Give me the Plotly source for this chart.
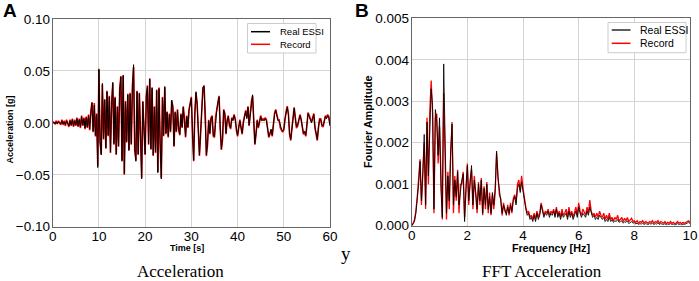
import plotly.graph_objects as go

# ---------------- Panel A: acceleration time histories (g), sampled every 0.25 s ----------------
dt = 0.25
accel_real_essi = [
    0.000, 0.001, -0.001, 0.001,   -0.001, 0.001, 0.000, -0.001,
    0.002, -0.001, 0.001, -0.002,  0.002, -0.001, -0.003, 0.002,
    -0.002, 0.003, -0.003, 0.002,  -0.002, 0.004, -0.003, 0.003,
    -0.004, 0.006, -0.002, 0.004,  -0.005, 0.005, -0.004, 0.007,
    -0.006, 0.010, 0.019, -0.008,  0.017, -0.012, 0.008, -0.043,
    0.052, -0.018, -0.031, 0.038,  -0.015, 0.022, -0.024, 0.030,
    -0.012, 0.025, -0.028, 0.018,  0.039, -0.020, 0.024, -0.030,
    0.015, -0.022, 0.032, 0.044,   -0.037, 0.046, -0.049, 0.020,
    -0.018, 0.027, -0.026, 0.028,  -0.020, 0.034, 0.056, -0.025,
    -0.037, 0.030, -0.030, 0.028,  -0.015, -0.054, 0.020, -0.012,
    -0.030, 0.025, 0.035, -0.020,  0.042, -0.025, 0.034, -0.031,
    0.015, -0.028, 0.031, -0.048,  0.033, -0.020, -0.054, 0.024,
    -0.012, 0.035, -0.010, 0.010,  -0.013, 0.008, -0.008, 0.022,
    0.015, -0.022, 0.010, -0.008,  0.012, -0.006, -0.011, 0.008,
    -0.004, 0.015, 0.004, -0.013,  0.006, -0.004, 0.012, 0.018,
    0.024, -0.010, -0.036, 0.008,  0.030, 0.018, -0.010, -0.031,
    -0.010, 0.015, 0.033, 0.036,   0.010, -0.031, -0.020, 0.002,
    -0.010, 0.004, 0.006, -0.012,  -0.013, 0.005, 0.012, 0.020,
    0.025, -0.005, -0.025, -0.015, 0.012, 0.008, -0.010, 0.002,
    0.006, -0.002, -0.005, 0.004,  0.002, 0.007, 0.003, -0.006,
    -0.012, -0.004, 0.002, -0.004, -0.010, 0.000, 0.008, 0.011,
    0.004, 0.015, -0.002, 0.010,   0.020, 0.027, 0.002, -0.020,
    -0.010, 0.002, -0.004, 0.002,  0.006, 0.002, 0.003, 0.002,
    0.004, 0.002, -0.004, -0.013,  -0.010, -0.006, -0.012, 0.000,
    0.008, 0.012, 0.006, 0.002,    0.002, -0.004, -0.006, -0.008,
    -0.006, 0.004, 0.010, 0.015,   0.008, -0.010, -0.016, -0.005,
    0.006, 0.014, 0.004, -0.004,   -0.002, 0.004, 0.007, 0.003,
    -0.004, -0.010, -0.008, -0.012, -0.002, 0.009, 0.006, 0.002,
    0.000, 0.004, 0.008, -0.004,   -0.012, -0.016, -0.004, 0.003,
    0.003, -0.002, -0.003, 0.002,  0.006, 0.004, 0.007, 0.005,
    -0.003,
]
accel_record = [
    0.001, 0.000, -0.001, 0.002,   -0.001, 0.002, -0.001, -0.002,
    0.003, -0.002, 0.002, -0.003,  0.003, -0.002, -0.004, 0.003,
    -0.003, 0.004, -0.004, 0.003,  -0.003, 0.005, -0.004, 0.004,
    -0.005, 0.007, -0.003, 0.005,  -0.006, 0.006, -0.005, 0.008,
    -0.007, 0.011, 0.020, -0.009,  0.019, -0.013, 0.009, -0.041,
    0.051, -0.019, -0.030, 0.037,  -0.016, 0.023, -0.025, 0.031,
    -0.013, 0.026, -0.029, 0.019,  0.038, -0.021, 0.025, -0.031,
    0.016, -0.023, 0.033, 0.045,   -0.036, 0.045, -0.050, 0.021,
    -0.019, 0.028, -0.027, 0.029,  -0.021, 0.035, 0.054, -0.026,
    -0.036, 0.031, -0.031, 0.029,  -0.016, -0.053, 0.021, -0.013,
    -0.031, 0.026, 0.036, -0.021,  0.043, -0.026, 0.033, -0.032,
    0.016, -0.029, 0.032, -0.047,  0.034, -0.021, -0.053, 0.025,
    -0.013, 0.034, -0.011, 0.011,  -0.014, 0.009, -0.009, 0.021,
    0.016, -0.023, 0.011, -0.009,  0.013, -0.007, -0.012, 0.009,
    -0.005, 0.016, 0.005, -0.014,  0.007, -0.005, 0.013, 0.019,
    0.025, -0.011, -0.037, 0.009,  0.029, 0.019, -0.011, -0.032,
    -0.011, 0.016, 0.034, 0.035,   0.011, -0.032, -0.021, 0.003,
    -0.011, 0.005, 0.007, -0.013,  -0.014, 0.006, 0.013, 0.021,
    0.026, -0.006, -0.026, -0.016, 0.013, 0.009, -0.011, 0.003,
    0.007, -0.003, -0.006, 0.005,  0.003, 0.008, 0.004, -0.007,
    -0.013, -0.005, 0.003, -0.005, -0.011, 0.001, 0.009, 0.012,
    0.005, 0.016, -0.003, 0.011,   0.021, 0.026, 0.003, -0.021,
    -0.011, 0.003, -0.005, 0.003,  0.007, 0.003, 0.004, 0.003,
    0.005, 0.003, -0.005, -0.014,  -0.011, -0.007, -0.013, 0.001,
    0.009, 0.013, 0.007, 0.003,    0.003, -0.005, -0.007, -0.009,
    -0.007, 0.005, 0.011, 0.016,   0.009, -0.011, -0.017, -0.006,
    0.007, 0.015, 0.005, -0.005,   -0.003, 0.005, 0.008, 0.004,
    -0.005, -0.011, -0.009, -0.013, -0.003, 0.010, 0.007, 0.003,
    0.001, 0.005, 0.009, -0.005,   -0.013, -0.017, -0.005, 0.004,
    0.004, -0.003, -0.004, 0.003,  0.007, 0.005, 0.008, 0.006,
    -0.002,
]
time_s = [round(i * dt, 2) for i in range(len(accel_real_essi))]

# ---------------- Panel B: Fourier amplitude (x1e-3), every 0.05 Hz ----------------
df = 0.05
fft_real_essi_milli = [
    0.0, 0.05, 0.1, 0.3, 0.6, 1.0, 1.55, 0.6, 1.3, 2.2, 0.5, 2.5, 1.2, 2.2, 3.3, 2.9, 0.4, 2.8, 2.5, 1.7,
    2.6, 0.9, 0.2, 3.9, 1.7, 0.3, 1.2, 0.6, 1.8, 2.45, 0.5, 1.1, 0.7, 1.3, 0.5, 0.9, 1.1, 1.25, 0.1, 0.9,
    1.45, 0.6, 1.0, 1.45, 0.5, 1.1, 0.8, 0.4, 1.0, 0.6, 1.1, 0.3, 0.9, 0.5, 1.0, 0.4, 0.7, 0.3, 0.8, 0.5,
    0.9, 1.8, 1.15, 0.8, 0.6, 0.3, 0.5, 0.4, 0.25, 0.45, 0.3, 0.5, 0.35, 0.6, 0.7, 0.5, 0.9, 1.0, 0.8, 1.05,
    0.8, 0.6, 0.4, 0.25, 0.3, 0.15, 0.2, 0.1, 0.25, 0.1, 0.3, 0.15, 0.25, 0.5, 0.3, 0.2, 0.3, 0.25, 0.35, 0.2,
    0.3, 0.25, 0.35, 0.2, 0.4, 0.2, 0.3, 0.15, 0.3, 0.2, 0.25, 0.3, 0.15, 0.35, 0.2, 0.3, 0.15, 0.25, 0.35, 0.2,
    0.45, 0.3, 0.2, 0.3, 0.25, 0.2, 0.35, 0.25, 0.45, 0.3, 0.2, 0.25, 0.15, 0.2, 0.15, 0.25, 0.2, 0.15, 0.2, 0.1,
    0.15, 0.1, 0.2, 0.1, 0.15, 0.08, 0.12, 0.1, 0.15, 0.08, 0.1, 0.12, 0.06, 0.1, 0.08, 0.12, 0.05, 0.08, 0.1, 0.06,
    0.08, 0.04, 0.06, 0.03, 0.05, 0.04, 0.06, 0.03, 0.05, 0.04, 0.03, 0.05, 0.04, 0.06, 0.03, 0.05, 0.04, 0.07, 0.03, 0.05,
    0.04, 0.03, 0.05, 0.02, 0.04, 0.03, 0.05, 0.03, 0.04, 0.02, 0.03, 0.05, 0.03, 0.04, 0.02, 0.04, 0.03, 0.05, 0.06, 0.08,
    0.05,
]
fft_record_milli = [
    0.0, 0.05, 0.15, 0.35, 0.7, 1.1, 1.6, 0.5, 1.4, 2.0, 0.4, 2.6, 1.0, 2.75, 3.5, 2.7, 0.3, 2.6, 2.7, 1.5,
    2.4, 1.0, 0.15, 3.2, 1.8, 0.15, 1.3, 0.4, 1.7, 2.5, 0.3, 1.2, 0.6, 1.35, 0.3, 1.0, 1.0, 1.3, 0.2, 0.8,
    1.5, 0.5, 1.1, 1.35, 0.4, 1.2, 0.7, 0.3, 1.05, 0.5, 1.15, 0.25, 0.95, 0.4, 1.05, 0.3, 0.8, 0.25, 0.75, 0.4,
    0.8, 1.75, 1.2, 0.75, 0.65, 0.25, 0.55, 0.35, 0.3, 0.5, 0.25, 0.55, 0.3, 0.65, 0.75, 0.55, 1.0, 1.1, 0.85, 1.2,
    0.9, 0.65, 0.45, 0.3, 0.35, 0.2, 0.25, 0.15, 0.3, 0.15, 0.35, 0.2, 0.3, 0.55, 0.35, 0.25, 0.35, 0.3, 0.4, 0.25,
    0.35, 0.3, 0.4, 0.25, 0.45, 0.25, 0.35, 0.2, 0.4, 0.25, 0.3, 0.4, 0.2, 0.45, 0.25, 0.35, 0.2, 0.3, 0.45, 0.25,
    0.55, 0.35, 0.25, 0.4, 0.3, 0.25, 0.45, 0.3, 0.62, 0.35, 0.25, 0.3, 0.2, 0.3, 0.2, 0.35, 0.25, 0.2, 0.3, 0.15,
    0.25, 0.15, 0.3, 0.15, 0.2, 0.12, 0.2, 0.15, 0.25, 0.12, 0.15, 0.2, 0.1, 0.18, 0.12, 0.2, 0.1, 0.15, 0.18, 0.1,
    0.12, 0.08, 0.12, 0.06, 0.1, 0.08, 0.12, 0.06, 0.1, 0.08, 0.06, 0.1, 0.08, 0.12, 0.06, 0.1, 0.08, 0.12, 0.06, 0.1,
    0.08, 0.06, 0.1, 0.05, 0.08, 0.06, 0.1, 0.06, 0.08, 0.05, 0.06, 0.1, 0.06, 0.08, 0.05, 0.08, 0.06, 0.09, 0.1, 0.12,
    0.08,
]
freq_hz = [round(i * df, 2) for i in range(len(fft_real_essi_milli))]
fft_real_essi = [v / 1000 for v in fft_real_essi_milli]
fft_record = [v / 1000 for v in fft_record_milli]

acc_ticks = [-0.10, -0.05, 0.00, 0.05, 0.10]
time_ticks = [0, 10, 20, 30, 40, 50, 60]
amp_ticks = [0.000, 0.001, 0.002, 0.003, 0.004, 0.005]
freq_ticks = [0, 2, 4, 6, 8, 10]
series_names = ["Real ESSI", "Record"]

W, H = 699, 281
def px(x): return x / W
def py(y): return 1 - y / H

BLACK = "#000000"
BLACK_B = "rgba(0,0,0,0.85)"
RED = "#ff0000"

fig = go.Figure()

# Panel A (red drawn beneath black)
fig.add_trace(go.Scatter(x=time_s, y=accel_record, mode="lines", name=series_names[1],
                         line=dict(color=RED, width=1.6), showlegend=False))
fig.add_trace(go.Scatter(x=time_s, y=accel_real_essi, mode="lines", name=series_names[0],
                         line=dict(color=BLACK, width=1), showlegend=False))
# Panel B (red beneath, black on top)
fig.add_trace(go.Scatter(x=freq_hz, y=fft_record, mode="lines", name=series_names[1],
                         line=dict(color=RED, width=1.3), xaxis="x2", yaxis="y2", showlegend=False))
fig.add_trace(go.Scatter(x=freq_hz, y=fft_real_essi, mode="lines", name=series_names[0],
                         line=dict(color=BLACK_B, width=1), xaxis="x2", yaxis="y2", showlegend=False))

tickfont = dict(family="Liberation Sans", size=13.5, color="#000")
axis_common = dict(showgrid=True, gridcolor="#d4d4d4", gridwidth=1, zeroline=False,
                   showline=True, linecolor="#666", linewidth=1, mirror=True,
                   ticks="", tickfont=tickfont, automargin=False)

fig.update_layout(
    width=W, height=H,
    margin=dict(l=0, r=0, t=0, b=0),
    paper_bgcolor="white", plot_bgcolor="white",
    showlegend=False,
    xaxis=dict(domain=[px(52.7), px(330)], range=[0, 60], tickvals=time_ticks,
               anchor="y", ticklabelstandoff=-3, **axis_common),
    yaxis=dict(domain=[py(226.7), py(19)], range=[-0.1, 0.1], tickvals=acc_ticks,
               tickformat=".2f", anchor="x", ticklabelstandoff=-1, **axis_common),
    xaxis2=dict(domain=[px(411.7), px(690)], range=[0, 10], tickvals=freq_ticks,
                anchor="y2", ticklabelstandoff=-3, **axis_common),
    yaxis2=dict(domain=[py(225.7), py(18.3)], range=[0, 0.005], tickvals=amp_ticks,
                tickformat=".3f", anchor="x2", ticklabelstandoff=-1, **axis_common),
)

# Hand-drawn legends (matplotlib style boxes)
shapes = []
ann = []
legends = [
    dict(box=(247.5, 316, 23.5, 53), line=(251, 270), rows=(31.7, 44.3), tx=277.5, fs=9.5,
         colors=(BLACK, RED)),
    dict(box=(608, 686, 22.5, 52.7), line=(611.7, 630.5), rows=(30, 43.3), tx=638, fs=10.5,
         colors=(BLACK_B, RED)),
]
for lg in legends:
    bx0, bx1, by0, by1 = lg["box"]
    shapes.append(dict(type="rect", xref="paper", yref="paper",
                       x0=px(bx0), x1=px(bx1), y0=py(by1), y1=py(by0),
                       line=dict(color="#cccccc", width=1), fillcolor="white", layer="above"))
    for name, yrow, col in zip(series_names, lg["rows"], lg["colors"]):
        shapes.append(dict(type="line", xref="paper", yref="paper",
                           x0=px(lg["line"][0]), x1=px(lg["line"][1]), y0=py(yrow), y1=py(yrow),
                           line=dict(color=col, width=1.5), layer="above"))
        ann.append(dict(text=name, x=px(lg["tx"]), y=py(yrow), xanchor="left", yanchor="middle",
                        font=dict(family="Liberation Sans", size=lg["fs"], color="#000")))

boldA = dict(family="Liberation Sans", size=9, color="#000")
boldB = dict(family="Liberation Sans", size=10.8, color="#000")
ann += [
    dict(text="<b>A</b>", x=px(10), y=py(11), font=dict(family="Liberation Sans", size=19, color="#000")),
    dict(text="<b>B</b>", x=px(362), y=py(11), font=dict(family="Liberation Sans", size=19, color="#000")),
    dict(text="<b>Time [s]</b>", x=px(187), y=py(247.5), font=boldA),
    dict(text="<b>Acceleration [g]</b>", x=px(9.5), y=py(130), font=boldA, textangle=-90),
    dict(text="<b>Frequency [Hz]</b>", x=px(550.5), y=py(247.5), font=boldB),
    dict(text="<b>Fourier Amplitude</b>", x=px(368), y=py(122), font=boldB, textangle=-90),
    dict(text="y", x=px(346), y=py(253), font=dict(family="Liberation Serif", size=19, color="#000")),
    dict(text="Acceleration", x=px(180), y=py(271), font=dict(family="Liberation Serif", size=17, color="#000")),
    dict(text="FFT Acceleration", x=px(542), y=py(271), font=dict(family="Liberation Serif", size=17, color="#000")),
]
for a in ann:
    a.setdefault("xanchor", "center")
    a.setdefault("yanchor", "middle")
    a.update(xref="paper", yref="paper", showarrow=False)
fig.update_layout(annotations=ann, shapes=shapes)

fig.write_html("out.html", config={"displayModeBar": False},
               post_script="document.body.style.margin='0';document.body.style.padding='0';"
                           "document.body.style.overflow='hidden';")
